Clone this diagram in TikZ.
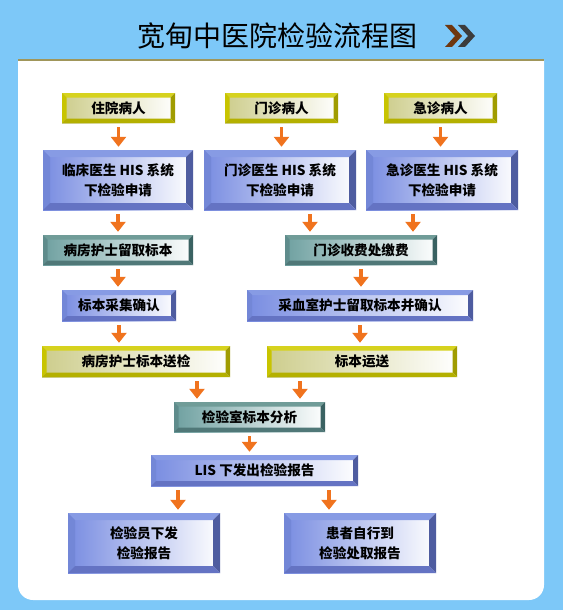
\documentclass[tikz,border=0pt]{standalone}
\usepackage{fontspec}
\setmainfont{Noto Sans CJK SC}
\usetikzlibrary{arrows.meta}

\definecolor{skyback}{RGB}{125,200,248}
\definecolor{paneline}{RGB}{160,150,90}
\definecolor{flowor}{RGB}{240,115,30}
\definecolor{chevbrown}{RGB}{110,55,15}
\definecolor{chevgray}{RGB}{60,60,60}
% bevel colours: top, left, right, bottom, inner
\definecolor{yeltop}{RGB}{214,210,30}
\definecolor{yelleft}{RGB}{200,196,0}
\definecolor{yelright}{RGB}{160,156,0}
\definecolor{yelbot}{RGB}{180,176,0}
\definecolor{yelin}{RGB}{205,205,140}
\definecolor{blutop}{RGB}{135,155,228}
\definecolor{bluleft}{RGB}{115,135,215}
\definecolor{bluright}{RGB}{78,92,160}
\definecolor{blubot}{RGB}{100,115,195}
\definecolor{bluin}{RGB}{120,140,225}
\definecolor{teatop}{RGB}{112,156,152}
\definecolor{tealeft}{RGB}{95,140,140}
\definecolor{tearight}{RGB}{58,98,98}
\definecolor{teabot}{RGB}{80,120,120}
\definecolor{teain}{RGB}{110,160,160}

\begin{document}
\begin{tikzpicture}[x=1pt, y=-1pt,
    flow/.style={draw=flowor, line width=3.5pt, -{Triangle[width=15pt,length=10pt]},
        shorten <=4pt, shorten >=3pt},
    bevel/.style n args={6}{fill=white, path picture={
        \coordinate (p1) at (path picture bounding box.north west);
        \coordinate (p2) at (path picture bounding box.north east);
        \coordinate (p3) at (path picture bounding box.south east);
        \coordinate (p4) at (path picture bounding box.south west);
        \shade[left color=#5, right color=white] (p1) rectangle (p3);
        \fill[#1] (p1) -- (p2) -- ([shift={(-#6,-#6)}]p2) -- ([shift={(#6,-#6)}]p1) -- cycle;
        \fill[#2] (p1) -- ([shift={(#6,-#6)}]p1) -- ([shift={(#6,#6)}]p4) -- (p4) -- cycle;
        \fill[#3] (p2) -- (p3) -- ([shift={(-#6,#6)}]p3) -- ([shift={(-#6,-#6)}]p2) -- cycle;
        \fill[#4] (p4) -- ([shift={(#6,#6)}]p4) -- ([shift={(-#6,#6)}]p3) -- (p3) -- cycle;
    }},
    boxtext/.style={inner sep=0pt, align=center, font=\bfseries\fontsize{13.6}{20}\selectfont},
    yelbox/.style={boxtext, bevel={yeltop}{yelleft}{yelright}{yelbot}{yelin}{4.5pt},
        minimum width=113pt, minimum height=30pt},
    bluebox/.style={boxtext, bevel={blutop}{bluleft}{bluright}{blubot}{bluin}{5pt},
        minimum height=31pt},
    bigbox/.style={boxtext, bevel={blutop}{bluleft}{bluright}{blubot}{bluin}{7pt},
        minimum width=152pt, minimum height=60pt},
    tealbox/.style={boxtext, bevel={teatop}{tealeft}{tearight}{teabot}{teain}{4.5pt},
        minimum width=151pt, minimum height=30pt}]

    \useasboundingbox (0,0) rectangle (563,610);
    \fill[skyback] (0,0) rectangle (563,610);
    \fill[white] (18,60) -- (544,60) [rounded corners=15pt] -- (544,600) -- (18,600) [sharp corners] -- cycle;
    \draw[paneline, line width=2.5pt] (18,60) -- (544,60);

    % title
    \node (title) at (277,36) {\fontsize{28}{28}\selectfont 宽甸中医院检验流程图};
    \fill[chevbrown] (445,25) -- (452,25) -- (462,36) -- (452,47) -- (445,47) -- (455,36) -- cycle;
    \fill[chevgray] (458,25) -- (465,25) -- (475,36) -- (465,47) -- (458,47) -- (468,36) -- cycle;

    % patients
    \node[yelbox] (inpat) at (118.5,108) {住院病人};
    \node[yelbox] (outpat) at (281.5,108) {门诊病人};
    \node[yelbox] (emerg) at (440.5,108) {急诊病人};

    % requests
    \node[bigbox, minimum width=150pt] (doc1) at (118,180) {临床医生 HIS 系统\\下检验申请};
    \node[bigbox, minimum width=152pt] (doc2) at (280,180) {门诊医生 HIS 系统\\下检验申请};
    \node[bigbox, minimum width=152pt] (doc3) at (442,180) {急诊医生 HIS 系统\\下检验申请};

    \node[tealbox, minimum width=150pt] (ward) at (118,250) {病房护士留取标本};
    \node[tealbox, minimum width=152pt] (fee) at (361,250) {门诊收费处缴费};

    \node[bluebox, minimum width=114pt] (confirm) at (119,305.5) {标本采集确认};
    \node[bluebox, minimum width=226pt] (collect) at (360,305.5) {采血室护士留取标本并确认};

    \node[yelbox, minimum width=188pt, minimum height=31pt] (send) at (136,361.5) {病房护士标本送检};
    \node[yelbox, minimum width=190pt, minimum height=31pt] (transport) at (362,361.5) {标本运送};

    \node[tealbox] (analyse) at (249.5,417) {检验室标本分析};
    \node[bluebox, minimum width=207pt] (lis) at (254.5,470.5) {LIS 下发出检验报告};

    \node[bigbox] (report1) at (144,543) {检验员下发\\检验报告};
    \node[bigbox] (report2) at (360,543) {患者自行到\\检验处取报告};

    % connectors
    \foreach \a/\b in {inpat/doc1, outpat/doc2, emerg/doc3, doc1/ward, ward/confirm,
        confirm/send, fee/collect, collect/transport, analyse/lis}
        \draw[flow] (\a.south) -- (\a.south |- \b.north);
    \draw[flow] ([xshift=-51pt]fee.north |- doc2.south) -- ([xshift=-51pt]fee.north);
    \draw[flow] ([xshift=52pt]fee.north |- doc3.south) -- ([xshift=52pt]fee.north);
    \draw[flow] ([xshift=-52.5pt]analyse.north |- send.south) -- ([xshift=-52.5pt]analyse.north);
    \draw[flow] ([xshift=50.5pt]analyse.north |- transport.south) -- ([xshift=50.5pt]analyse.north);
    \draw[flow] ([xshift=34pt]report1.north |- lis.south) -- ([xshift=34pt]report1.north);
    \draw[flow] ([xshift=-31pt]report2.north |- lis.south) -- ([xshift=-31pt]report2.north);
\end{tikzpicture}
\end{document}
